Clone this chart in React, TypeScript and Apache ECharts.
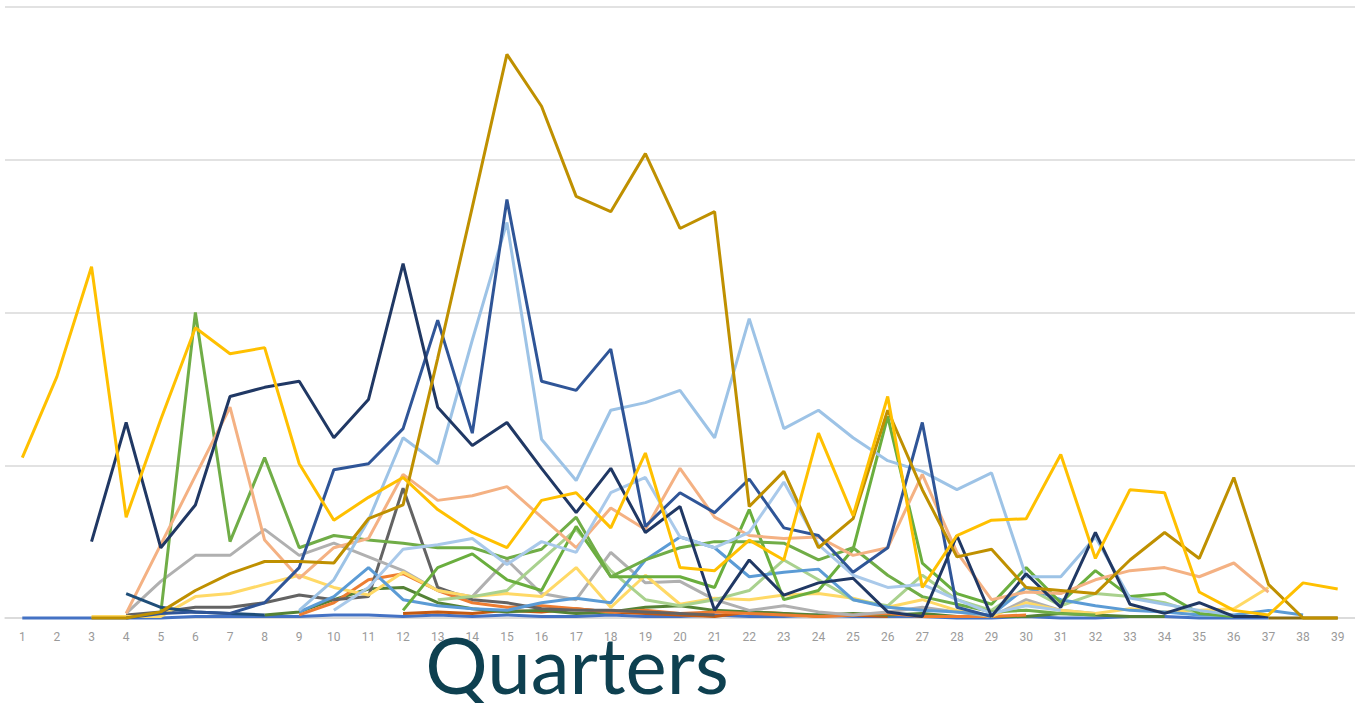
import { useEffect, useRef } from "react";
import * as echarts from "echarts";

const N = null;

const quarters = [
  "1","2","3","4","5","6","7","8","9","10","11","12","13","14","15","16","17","18","19","20",
  "21","22","23","24","25","26","27","28","29","30","31","32","33","34","35","36","37","38","39",
];

const yellow = [105,158,230,66,130,190,173,177,101,64,79,92,71,56,46,77,82,59,108,33,31,51,38,121,67,145,20,54,64,65,107,39,84,82,17,5,2,23,19];
const gold = [N,N,0,0,4,18,29,37,37,36,65,74,170,269,369,335,276,266,304,255,266,73,96,46,65,136,84,40,45,20,18,16,38,56,39,92,22,0,0];
const navy = [N,N,50,128,46,74,145,151,155,118,143,232,138,113,128,98,69,98,56,73,5,38,15,23,26,4,1,54,1,29,7,56,9,3,10,1,1,N,N];
const blue = [N,N,N,0,3,4,3,10,33,97,101,124,195,121,274,155,149,176,60,82,69,91,59,54,30,46,128,7,1,N,N,N,N,N,N,N,N,N,N];
const lightBlueA = [N,N,N,N,N,N,N,N,5,25,64,118,101,182,259,117,90,136,141,149,118,196,124,136,118,103,96,84,95,27,27,53,13,9,5,2,N,N,N];
const lightBlueB = [N,N,N,N,N,N,N,N,N,5,20,45,48,52,35,50,43,82,92,53,46,56,89,48,28,20,22,12,3,8,5,N,N,N,N,N,N,N,N];
const midBlue = [N,N,N,N,N,N,N,N,4,14,33,12,8,6,5,10,13,10,38,53,46,27,30,32,12,7,5,4,2,20,12,8,5,4,2,2,5,2,N];
const greenA = [N,N,N,N,3,200,50,105,46,54,51,49,46,46,39,45,66,27,38,46,50,50,49,38,46,28,14,9,4,5,3,2,N,N,N,N,N,N,N];
const greenB = [N,N,N,N,N,N,N,N,N,N,N,5,33,42,25,18,60,27,27,27,20,71,12,18,45,132,36,16,9,33,10,31,14,16,3,1,N,N,N];
const greenLight = [N,N,N,N,N,N,N,N,N,N,N,N,12,14,18,38,58,31,12,8,12,18,38,25,12,8,28,12,5,20,8,16,14,10,3,N,N,N,N];
const greenDark = [N,N,N,N,N,N,N,2,4,12,19,20,10,6,4,5,3,4,7,8,5,4,3,2,3,2,3,1,1,1,3,2,1,1,N,N,N,N,N];
const salmon = [N,N,N,3,48,93,138,51,26,46,52,94,77,80,86,66,46,72,58,98,66,54,52,53,41,46,94,43,12,17,16,25,31,33,27,36,17,N,N];
const grey = [N,N,N,3,24,41,41,58,41,49,40,31,18,14,38,16,12,43,23,24,12,5,8,4,2,4,7,4,1,12,5,3,N,N,N,N,N,N,N];
const darkGrey = [N,N,N,2,4,7,7,10,15,12,14,85,20,12,10,6,5,5,4,3,2,N,N,N,N,N,N,N,N,N,N,N,N,N,N,N,N,N,N];
const paleYellow = [N,N,1,1,1,14,16,22,28,20,15,30,18,14,16,14,33,7,28,9,13,12,15,16,13,7,12,5,1,10,5,3,6,4,5,6,20,N,N];
const orange = [N,N,N,N,N,N,N,N,2,10,25,29,18,10,7,8,6,4,5,3,4,3,2,1,2,3,1,1,1,2,N,N,N,N,N,N,N,N,N];
const darkOrange = [N,N,N,N,N,N,N,N,N,N,N,3,4,3,5,4,6,4,3,2,1,4,3,1,2,1,N,N,N,N,N,N,N,N,N,N,N,N,N];
const flatBlue = [0,0,0,0,0,1,1,1,1,2,2,1,2,1,2,1,1,2,1,1,2,1,1,2,1,1,1,0,0,1,0,0,1,1,0,0,0,N,N];
const steelBlue = [N,N,N,16,7,4,3,2,N,N,N,N,N,N,N,N,N,N,N,N,N,N,N,N,N,N,N,N,N,N,N,N,N,N,N,N,N,N,N];
const brown = [N,N,N,N,N,N,N,N,N,N,N,N,N,N,N,N,N,N,N,N,N,N,N,N,N,N,N,N,N,N,N,N,N,N,N,N,0,0,0];

const yTicks = [0, 100, 200, 300, 400];

const seriesList = [
  { name: "s1", color: "#4472C4", data: flatBlue },
  { name: "s2", color: "#C55A11", data: darkOrange },
  { name: "s3", color: "#548235", data: greenDark },
  { name: "s4", color: "#ED7D31", data: orange },
  { name: "s5", color: "#636363", data: darkGrey },
  { name: "s6", color: "#B0B0B0", data: grey },
  { name: "s7", color: "#FFD966", data: paleYellow },
  { name: "s8", color: "#A9D18E", data: greenLight },
  { name: "s9", color: "#5B9BD5", data: midBlue },
  { name: "s10", color: "#6AAE3E", data: greenB },
  { name: "s11", color: "#70AD47", data: greenA },
  { name: "s12", color: "#F4B183", data: salmon },
  { name: "s13", color: "#A9C9EA", data: lightBlueB },
  { name: "s14", color: "#9DC3E6", data: lightBlueA },
  { name: "s15", color: "#1F4E79", data: steelBlue },
  { name: "s16", color: "#2F5597", data: blue },
  { name: "s17", color: "#203864", data: navy },
  { name: "s18", color: "#8C6D12", data: brown },
  { name: "s19", color: "#BF9000", data: gold },
  { name: "s20", color: "#FFC000", data: yellow },
];

export default function App() {
  const ref = useRef<HTMLDivElement>(null);
  useEffect(() => {
    if (!ref.current) return;
    const chart = echarts.init(ref.current, undefined, { renderer: "svg" });
    chart.setOption({
      animation: false,
      backgroundColor: "#ffffff",
      grid: { left: 5, right: 0, top: 7, bottom: 85, containLabel: false },
      xAxis: {
        type: "category",
        data: quarters,
        boundaryGap: true,
        axisTick: { show: false },
        axisLine: { show: true, lineStyle: { color: "#D9D9D9", width: 1.5 } },
        axisLabel: {
          color: "#9A9A9A",
          fontSize: 12,
          margin: 13,
          interval: 0,
          fontFamily: "Liberation Sans Narrow, Roboto, sans-serif",
        },
      },
      yAxis: {
        type: "value",
        min: yTicks[0],
        max: yTicks[yTicks.length - 1],
        interval: 100,
        axisLabel: { show: false },
        axisLine: { show: false },
        axisTick: { show: false },
        splitLine: { show: true, lineStyle: { color: "#D9D9D9", width: 1.5 } },
      },
      graphic: [
        {
          type: "text",
          x: 577,
          y: 664,
          style: {
            text: "Quarters",
            fontSize: 78,
            lineHeight: 74,
            fontFamily: "Lato",
            fill: "#0E4050",
            align: "center",
            verticalAlign: "middle",
          },
        },
      ],
      series: seriesList.map((s) => ({
        name: s.name,
        type: "line",
        data: s.data,
        showSymbol: false,
        symbol: "none",
        clip: false,
        connectNulls: false,
        lineStyle: { color: s.color, width: 3 },
        itemStyle: { color: s.color },
      })),
    });
    return () => chart.dispose();
  }, []);
  return (
    <div
      ref={ref}
      style={{ position: "fixed", left: 0, top: 0, width: 1355, height: 703, background: "#fff" }}
    />
  );
}
